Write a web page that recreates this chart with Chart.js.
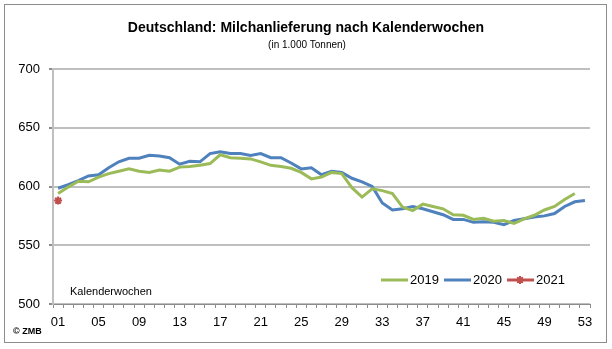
<!DOCTYPE html>
<html>
<head>
<meta charset="utf-8">
<script src="https://cdn.jsdelivr.net/npm/chart.js@4/dist/chart.umd.min.js"></script>
<style>
  html, body { margin: 0; padding: 0; background: #fff; }
  #wrap { width: 612px; height: 349px; position: relative; }
</style>
</head>
<body>
<div id="wrap"><canvas id="milkChart" width="612" height="349"></canvas></div>
<script>
// Kalenderwochen 01..53
const weeks = Array.from({ length: 53 }, (_, i) => String(i + 1).padStart(2, '0'));
const yTicks = [500, 550, 600, 650, 700];

// Milchanlieferung in 1.000 t
const milk2019 = [594, 599.5, 604.5, 604, 608, 611, 613, 615, 613, 612, 614, 613, 616.5, 617, 618, 619.5, 627, 624.5, 624, 623.5,
    621, 618, 617, 615.5, 612, 606.5, 608, 612, 611, 599, 591, 598, 596.5, 594, 582.5, 579.5, 585, 583, 581, 576,
    575.5, 572, 573, 570.5, 571, 568.5, 572.5, 575.5, 580, 583, 589, 594];
const milk2020 = [598.5, 601.5, 605, 609, 610, 616, 621, 624, 624, 626.5, 626, 624.5, 619, 621.5, 621, 628, 629.5, 628, 628, 626.5,
    628, 624.5, 624.5, 620, 615, 616, 610, 613, 612, 607, 604, 600, 586, 580, 581, 583, 581, 578.5, 576, 572,
    572, 569.5, 570, 569.5, 567.5, 571, 572.5, 574, 575, 577, 583, 587, 588];
const milk2021 = [588];

const font = 'Arial, "Liberation Sans", sans-serif';

// Title, notes, frame and legend drawn straight on the canvas
const decorPlugin = {
    id: 'decor',
    afterDraw: (chart) => {
        const c = chart.ctx;
        c.save();
        c.strokeStyle = '#8c8c8c';
        c.lineWidth = 1;
        c.strokeRect(4.5, 4.5, 602, 338);

        c.fillStyle = '#000';
        c.textAlign = 'center';
        c.textBaseline = 'middle';
        c.font = 'bold 14px ' + font;
        c.fillText('Deutschland: Milchanlieferung nach Kalenderwochen', 306, 28);
        c.font = '10px ' + font;
        c.fillText('(in 1.000 Tonnen)', 307, 45);

        c.textAlign = 'left';
        c.font = '11px ' + font;
        c.fillText('Kalenderwochen', 70, 292);
        c.font = 'bold 9px ' + font;
        c.fillText('\u00a9 ZMB', 13, 332);

        // legend
        const items = [[381, 0], [444, 1], [507, 2]];
        c.font = '13px ' + font;
        items.forEach(([x, i]) => {
            const ds = chart.data.datasets[i];
            c.strokeStyle = ds.borderColor;
            c.fillStyle = ds.borderColor;
            c.lineWidth = 3;
            c.beginPath();
            c.moveTo(x, 280);
            c.lineTo(x + 27, 280);
            c.stroke();
            if (i === 2) {
                c.lineWidth = 2;
                Chart.helpers.drawPoint(c, { pointStyle: 'star', radius: 4, borderWidth: 2 }, x + 13, 280);
            }
            c.fillStyle = '#000';
            c.fillText(ds.label, x + 29, 280);
        });
        c.restore();
    }
};

new Chart(document.getElementById('milkChart'), {
    type: 'line',
    data: {
        labels: weeks,
        datasets: [
            { label: '2019', data: milk2019, borderColor: '#9BBB59', borderWidth: 3, pointRadius: 0, tension: 0 },
            { label: '2020', data: milk2020, borderColor: '#4F81BD', borderWidth: 3, pointRadius: 0, tension: 0 },
            { label: '2021', data: milk2021, borderColor: '#C0504D', backgroundColor: '#C0504D', borderWidth: 2,
              pointStyle: 'star', pointRadius: 4, tension: 0 }
        ]
    },
    options: {
        responsive: false,
        animation: false,
        layout: { padding: { left: 0, right: 22, top: 69, bottom: 20 } },
        plugins: { legend: { display: false }, tooltip: { enabled: false } },
        scales: {
            x: {
                offset: true,
                afterFit: s => { s.height = 25; },
                grid: { offset: true, drawOnChartArea: false, drawTicks: true, tickLength: 4, color: '#8c8c8c' },
                border: { color: '#8c8c8c', width: 1 },
                ticks: {
                    autoSkip: false, maxRotation: 0, padding: 7, color: '#000',
                    font: { family: font, size: 13 },
                    callback: (v, i) => (i % 4 === 0 ? weeks[i] : '')
                }
            },
            y: {
                min: yTicks[0],
                max: yTicks[yTicks.length - 1],
                afterFit: s => { s.width = 53; },
                afterBuildTicks: s => { s.ticks = yTicks.map(v => ({ value: v })); },
                grid: { color: '#bfbfbf', lineWidth: 2, tickLength: 4, tickColor: '#8c8c8c' },
                border: { color: '#bfbfbf', width: 2 },
                ticks: { padding: 9, color: '#000', font: { family: font, size: 13 } }
            }
        }
    },
    plugins: [decorPlugin]
});
</script>
</body>
</html>
